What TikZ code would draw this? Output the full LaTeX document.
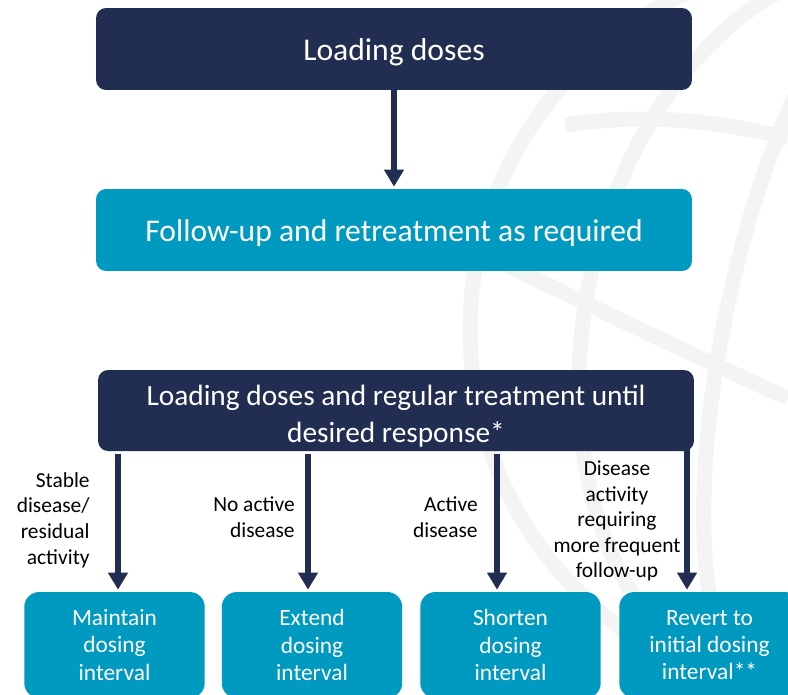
\documentclass[tikz,border=0pt]{standalone}
\usepackage{fontspec}
\setmainfont{Carlito}
\usetikzlibrary{arrows.meta}
\definecolor{navybox}{HTML}{222D52}
\definecolor{cyanbox}{HTML}{009AC1}
\definecolor{globeline}{HTML}{F4F4F4}
\tikzset{
  wide/.style={rounded corners=0.2cm, minimum width=11.92cm, minimum height=1.64cm,
    inner sep=0pt, text=white, align=center, font=\fontsize{18}{21}\selectfont,
    execute at begin node={\rule{0pt}{16pt}}},
  small/.style={rounded corners=0.3cm, minimum width=3.61cm, minimum height=2.12cm,
    inner sep=0pt, fill=cyanbox, text=white, align=center, font=\fontsize{13.3}{15.6}\selectfont},
  cond/.style={inner sep=0pt, font=\fontsize{12.2}{14.6}\selectfont},
  flow/.style={navybox, line width=0.12cm, -{Triangle[width=0.38cm,length=0.34cm]}},
  globe/.style={globeline, line width=0.3cm}
}
\begin{document}
\begin{tikzpicture}[x=0.02cm,y=-0.02cm]
	\useasboundingbox (0,0) rectangle (788,694);
	\fill[white] (0,0) rectangle (788,694);
	\clip (0,0) rectangle (788,694);

	% faint globe behind
	\draw[globe] (840,330) circle (370);
	\draw[globe,rotate around={-12:(840,330)}] (840,330) ellipse (255 and 370);
	\draw[globe,rotate around={-12:(840,330)}] (840,330) ellipse (115 and 370);
	\draw[globe] (565,125) .. controls (650,112) and (720,122) .. (788,138);
	\draw[globe] (500,262) .. controls (580,300) and (680,350) .. (788,398);

	% top part
	\node[wide,fill=navybox] (load) at (394,49) {Loading doses};
	\node[wide,fill=cyanbox] (follow) at (394,230) {Follow-up and retreatment as required};
	\draw[flow,shorten >=0.04cm] (load.south) -- (follow.north);

	% lower part
	\node[wide,fill=navybox,minimum height=1.62cm,font=\fontsize{16.7}{21}\selectfont] (regular) at (396,410.5)
		{\rule{0pt}{18pt}Loading doses and regular treatment until\\desired response*};

	\node[small] (maintain) at (114.5,645) {Maintain\\dosing\\interval};
	\node[small] (extend) at (312,645) {Extend\\dosing\\interval};
	\node[small] (shorten) at (510.5,645) {Shorten\\dosing\\interval};
	\node[small] (revert) at (709.5,645) {Revert to\\initial dosing\\interval**};

	\coordinate (x1) at (118,0);
	\coordinate (x2) at (308,0);
	\coordinate (x3) at (497,0);
	\coordinate (x4) at (687,0);
	\draw[flow,shorten <=0.06cm,shorten >=0.04cm] (regular.south -| x1) -- (maintain.north -| x1);
	\draw[flow,shorten <=0.06cm,shorten >=0.04cm] (regular.south -| x2) -- (extend.north -| x2);
	\draw[flow,shorten <=0.06cm,shorten >=0.04cm] (regular.south -| x3) -- (shorten.north -| x3);
	\draw[flow,shorten <=-0.1cm,shorten >=0.04cm] (regular.south -| x4) -- (revert.north -| x4);

	\node[cond,anchor=east,align=right] (stable) at (90,520) {Stable\\disease/\\residual\\activity};
	\node[cond,anchor=east,align=right] (noact) at (295,517) {No active\\disease};
	\node[cond,anchor=east,align=right] (act) at (478,517) {Active\\disease};
	\node[cond,align=center] (freq) at (617,521) {Disease\\activity\\requiring\\more frequent\\follow-up};
\end{tikzpicture}
\end{document}
